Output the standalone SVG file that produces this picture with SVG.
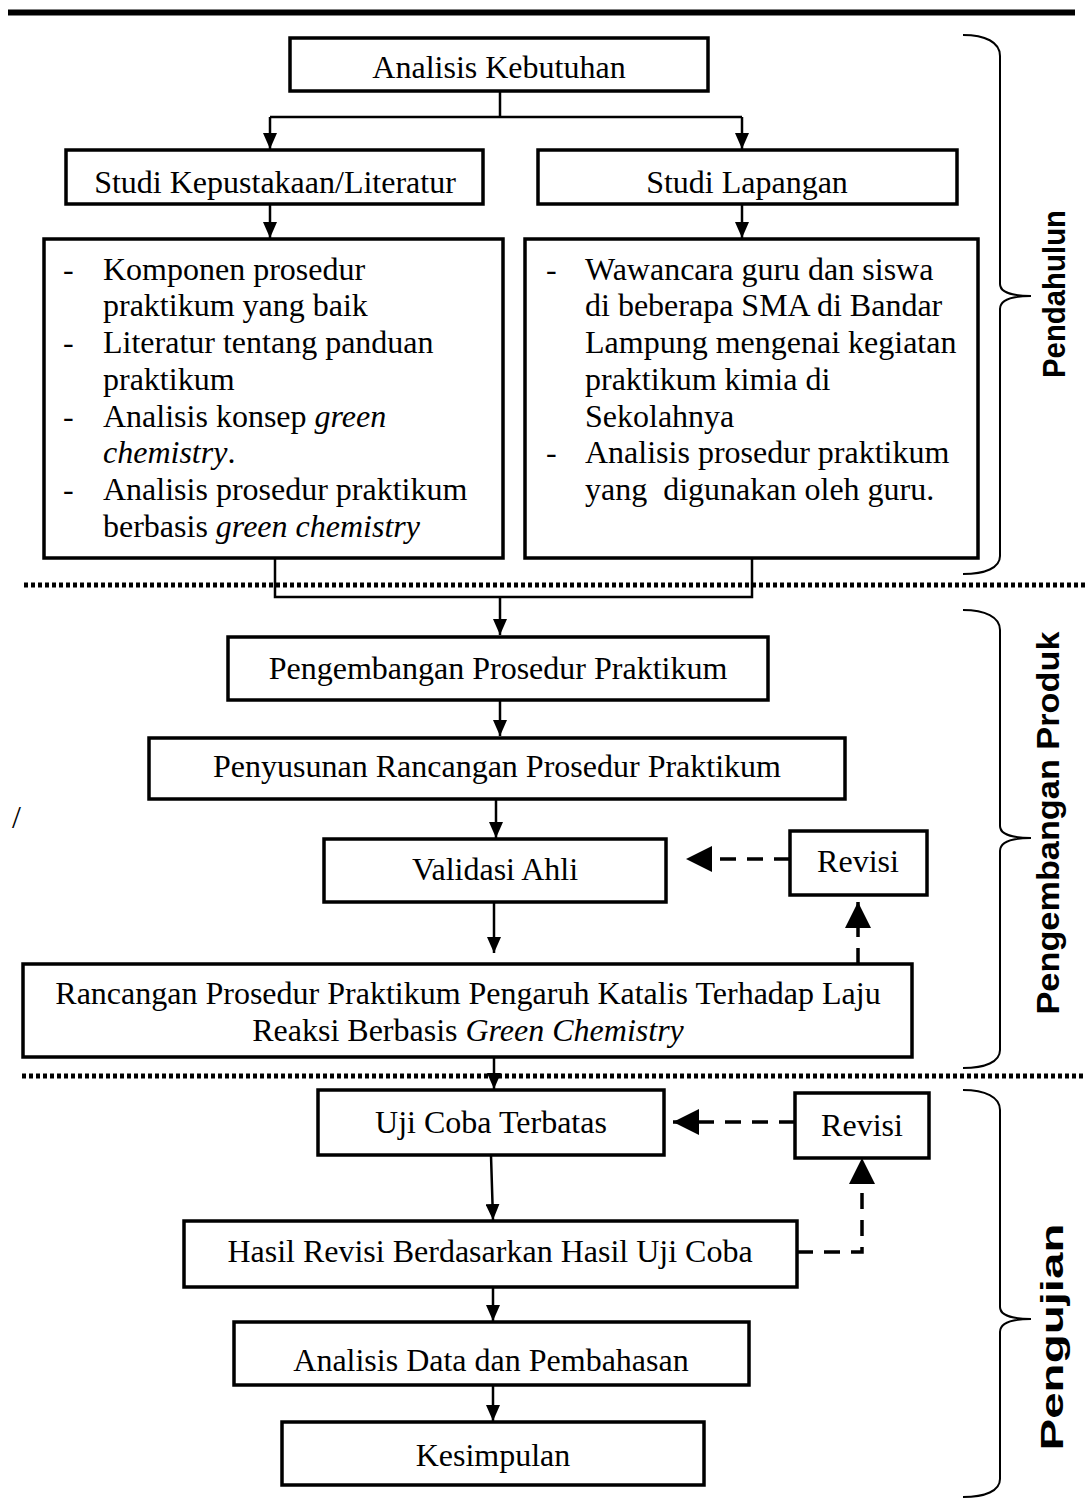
<svg xmlns="http://www.w3.org/2000/svg" width="1085" height="1502" viewBox="0 0 1085 1502">
<style>
.box{fill:#fff;stroke:#000;stroke-width:3.5}
.t{font-family:"Liberation Serif","Times New Roman",serif;font-size:32px;fill:#000}
.c{text-anchor:middle}
.i{font-style:italic}
.ln{fill:none;stroke:#000;stroke-width:2.5}
.dash{fill:none;stroke:#000;stroke-width:3.5;stroke-dasharray:16 11}
.sep{fill:none;stroke:#000;stroke-width:5;stroke-dasharray:4 3}
.brace{fill:none;stroke:#000;stroke-width:2}
.lab{font-family:"Liberation Sans",Arial,sans-serif;font-weight:bold;font-size:32px;text-anchor:middle;fill:#000}
</style>
<defs>
<marker id="ah" markerUnits="userSpaceOnUse" viewBox="0 0 16 14" refX="16" refY="7" markerWidth="16" markerHeight="14" orient="auto"><path d="M0,0 L16,7 L0,14 z" fill="#000"/></marker>
<marker id="ahd" markerUnits="userSpaceOnUse" viewBox="0 0 26 26" refX="26" refY="13" markerWidth="26" markerHeight="26" orient="auto"><path d="M0,0 L26,13 L0,26 z" fill="#000"/></marker>
</defs>
<rect x="8" y="9.5" width="1067" height="6" fill="#000"/>
<g id="separators">
<line class="sep" x1="24" y1="585" x2="1085" y2="585"/>
<line class="sep" x1="22" y1="1076" x2="1085" y2="1076"/>
</g>
<g id="connectors">
<polyline class="ln" points="500,91 500,117"/>
<polyline class="ln" points="270,117 742,117"/>
<line class="ln" x1="270" y1="117" x2="270" y2="149" marker-end="url(#ah)"/>
<line class="ln" x1="742" y1="117" x2="742" y2="149" marker-end="url(#ah)"/>
<line class="ln" x1="270" y1="204" x2="270" y2="238" marker-end="url(#ah)"/>
<line class="ln" x1="742" y1="204" x2="742" y2="238" marker-end="url(#ah)"/>
<polyline class="ln" points="275,558 275,597 752,597 752,558"/>
<line class="ln" x1="500" y1="597" x2="500" y2="635" marker-end="url(#ah)"/>
<line class="ln" x1="500" y1="700" x2="500" y2="736" marker-end="url(#ah)"/>
<line class="ln" x1="496" y1="799" x2="496" y2="838" marker-end="url(#ah)"/>
<line class="ln" x1="494" y1="902" x2="494" y2="953" marker-end="url(#ah)"/>
<line class="ln" x1="494" y1="1057" x2="494" y2="1089" marker-end="url(#ah)"/>
<line class="ln" x1="491" y1="1155" x2="493" y2="1220" marker-end="url(#ah)"/>
<line class="ln" x1="493" y1="1287" x2="493" y2="1321" marker-end="url(#ah)"/>
<line class="ln" x1="493" y1="1385" x2="493" y2="1421" marker-end="url(#ah)"/>
<line class="dash" x1="790" y1="859" x2="686" y2="859" marker-end="url(#ahd)"/>
<line class="dash" x1="858" y1="964" x2="858" y2="902" marker-end="url(#ahd)"/>
<line class="dash" x1="795" y1="1122" x2="673" y2="1122" marker-end="url(#ahd)"/>
<polyline class="dash" points="797,1252 862,1252 862,1158" marker-end="url(#ahd)"/>
</g>
<g id="n-analisis-kebutuhan">
<rect class="box" x="290" y="38" width="418" height="53"/>
<text class="t c" x="499" y="78">Analisis Kebutuhan</text>
</g>
<g id="n-studi-kepustakaan">
<rect class="box" x="66" y="150" width="417" height="54"/>
<text class="t c" x="275" y="193">Studi Kepustakaan/Literatur</text>
</g>
<g id="n-studi-lapangan">
<rect class="box" x="538" y="150" width="419" height="54"/>
<text class="t c" x="747" y="193">Studi Lapangan</text>
</g>
<g id="n-literatur-list">
<rect class="box" x="44" y="239" width="459" height="319"/>
<text class="t" x="63" y="280">-</text>
<text class="t" x="103" y="280">Komponen prosedur</text>
<text class="t" x="103" y="316">praktikum yang baik</text>
<text class="t" x="63" y="353">-</text>
<text class="t" x="103" y="353">Literatur tentang panduan</text>
<text class="t" x="103" y="390">praktikum</text>
<text class="t" x="63" y="427">-</text>
<text class="t" x="103" y="427">Analisis konsep <tspan class="i">green</tspan></text>
<text class="t" x="103" y="463"><tspan class="i">chemistry</tspan>.</text>
<text class="t" x="63" y="500">-</text>
<text class="t" x="103" y="500">Analisis prosedur praktikum</text>
<text class="t" x="103" y="537">berbasis <tspan class="i">green chemistry</tspan></text>
</g>
<g id="n-lapangan-list">
<rect class="box" x="525" y="239" width="453" height="319"/>
<text class="t" x="546" y="280">-</text>
<text class="t" x="585" y="280">Wawancara guru dan siswa</text>
<text class="t" x="585" y="316">di beberapa SMA di Bandar</text>
<text class="t" x="585" y="353">Lampung mengenai kegiatan</text>
<text class="t" x="585" y="390">praktikum kimia di</text>
<text class="t" x="585" y="427">Sekolahnya</text>
<text class="t" x="546" y="463">-</text>
<text class="t" x="585" y="463">Analisis prosedur praktikum</text>
<text class="t" x="585" y="500" style="white-space:pre">yang  digunakan oleh guru.</text>
</g>
<g id="n-pengembangan">
<rect class="box" x="228" y="637" width="540" height="63"/>
<text class="t c" x="498" y="679">Pengembangan Prosedur Praktikum</text>
</g>
<g id="n-penyusunan">
<rect class="box" x="149" y="738" width="696" height="61"/>
<text class="t c" x="497" y="777">Penyusunan Rancangan Prosedur Praktikum</text>
</g>
<g id="n-validasi">
<rect class="box" x="324" y="839" width="342" height="63"/>
<text class="t c" x="495" y="880">Validasi Ahli</text>
</g>
<g id="n-revisi-1">
<rect class="box" x="790" y="831" width="137" height="64"/>
<text class="t c" x="858" y="872">Revisi</text>
</g>
<g id="n-rancangan">
<rect class="box" x="23" y="964" width="889" height="93"/>
<text class="t c" x="468" y="1004">Rancangan Prosedur Praktikum Pengaruh Katalis Terhadap Laju</text>
<text class="t c" x="468" y="1041">Reaksi Berbasis <tspan class="i">Green Chemistry</tspan></text>
</g>
<g id="n-uji-coba">
<rect class="box" x="318" y="1090" width="346" height="65"/>
<text class="t c" x="491" y="1133">Uji Coba Terbatas</text>
</g>
<g id="n-revisi-2">
<rect class="box" x="795" y="1093" width="134" height="65"/>
<text class="t c" x="862" y="1136">Revisi</text>
</g>
<g id="n-hasil-revisi">
<rect class="box" x="184" y="1221" width="613" height="66"/>
<text class="t c" x="490" y="1262">Hasil Revisi Berdasarkan Hasil Uji Coba</text>
</g>
<g id="n-analisis-data">
<rect class="box" x="234" y="1322" width="515" height="63"/>
<text class="t c" x="491" y="1371">Analisis Data dan Pembahasan</text>
</g>
<g id="n-kesimpulan">
<rect class="box" x="282" y="1422" width="422" height="63"/>
<text class="t c" x="493" y="1466">Kesimpulan</text>
</g>
<text class="t" x="12" y="828">/</text>
<g id="brace-pendahuluan">
<path class="brace" d="M963,35 C985,35 1000,42 1000,56 L1000,284 C1000,292 1012,296 1031,296 C1012,296 1000,300 1000,309 L1000,556 C1000,568 985,574 963,574"/>
<text class="lab" transform="translate(1065,294) rotate(-90)" textLength="168" lengthAdjust="spacingAndGlyphs">Pendahulun</text>
</g>
<g id="brace-pengembangan">
<path class="brace" d="M963,610 C985,610 1000,617 1000,630 L1000,826 C1000,834 1012,838 1031,838 C1012,838 1000,842 1000,851 L1000,1050 C1000,1062 985,1068 963,1068"/>
<text class="lab" transform="translate(1059,823) rotate(-90)" textLength="383" lengthAdjust="spacingAndGlyphs">Pengembangan Produk</text>
</g>
<g id="brace-pengujian">
<path class="brace" d="M963,1090 C985,1090 1000,1097 1000,1110 L1000,1307 C1000,1315 1012,1319 1031,1319 C1012,1319 1000,1323 1000,1332 L1000,1479 C1000,1491 985,1497 963,1497"/>
<text class="lab" transform="translate(1063,1337) rotate(-90)" textLength="227" lengthAdjust="spacingAndGlyphs">Pengujian</text>
</g>
</svg>
